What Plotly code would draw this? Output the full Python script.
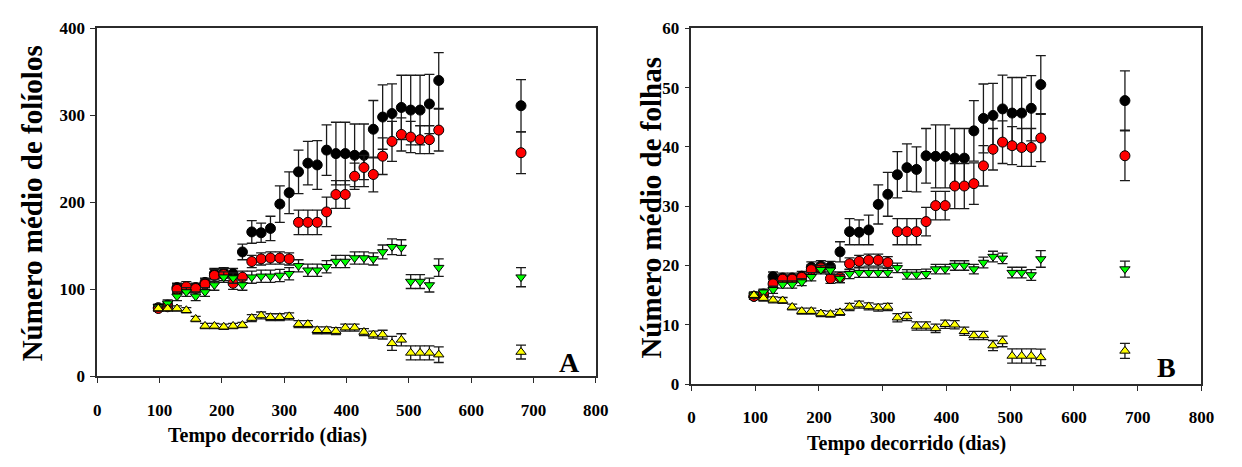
import plotly.graph_objects as go

# Sampling times (days) shared by all series; last point is the isolated late measurement
days = [98, 113, 128, 143, 158, 173, 188, 203, 218, 233, 248, 263, 278, 293, 308, 323,
        338, 353, 368, 383, 398, 413, 428, 443, 458, 473, 488, 503, 518, 533, 548, 680]

# Panel A - mean number of leaflets
black_A = [79, 82, 102, 101, 102, 108, 118, 119, 118, 143, 166, 165, 170, 198, 211, 235,
           245, 243, 260, 256, 256, 254, 254, 284, 298, 302, 309, 306, 306, 313, 340, 311]
black_A_err = [3, 3, 5, 5, 5, 5, 6, 6, 6, 9, 13, 11, 14, 21, 24, 25,
               25, 28, 29, 36, 36, 36, 36, 33, 37, 34, 37, 40, 40, 34, 32, 30]
red_A = [78, 80, 100, 103, 101, 106, 116, 117, 107, 114, 132, 135, 136, 136, 135, 177,
         177, 177, 189, 209, 209, 230, 240, 232, 253, 270, 278, 275, 272, 272, 283, 257]
red_A_err = [3, 3, 5, 6, 5, 6, 7, 7, 7, 7, 7, 7, 7, 7, 7, 14,
             14, 14, 17, 16, 16, 15, 14, 20, 21, 23, 19, 18, 16, 16, 24, 24]
green_A = [80, 84, 92, 97, 92, 97, 105, 114, 113, 105, 114, 115, 115, 116, 118, 127,
           122, 122, 126, 132, 132, 136, 136, 135, 143, 149, 148, 109, 109, 105, 125, 114]
green_A_err = [3, 4, 5, 5, 5, 5, 6, 6, 6, 6, 7, 7, 7, 7, 7, 7,
               7, 7, 7, 7, 7, 7, 7, 7, 8, 9, 9, 8, 8, 8, 10, 11]
yellow_A = [78, 78, 78, 76, 66, 58, 58, 57, 58, 59, 67, 70, 68, 68, 69, 60,
            60, 53, 53, 52, 56, 56, 51, 48, 48, 38, 42, 27, 27, 27, 25, 28]
yellow_A_err = [3, 3, 3, 3, 3, 3, 3, 3, 3, 3, 4, 4, 4, 4, 4, 4,
                4, 4, 4, 4, 4, 4, 4, 4, 5, 8, 7, 8, 8, 8, 9, 8]

# Panel B - mean number of leaves
black_B = [14.8, 15.0, 18.1, 17.9, 17.9, 18.2, 19.7, 19.9, 19.8, 22.3, 25.7, 25.6, 26.0, 30.3, 32.0, 35.3,
           36.5, 36.2, 38.5, 38.4, 38.4, 38.1, 38.1, 42.7, 44.8, 45.3, 46.4, 45.7, 45.7, 46.5, 50.5, 47.8]
black_B_err = [0.5, 0.5, 0.8, 0.8, 0.8, 0.8, 0.9, 0.9, 0.9, 1.7, 2.2, 2.1, 2.5, 3.3, 3.7, 3.9,
               4.0, 3.8, 4.6, 5.3, 5.3, 5.0, 5.0, 5.1, 5.8, 5.4, 5.7, 6.0, 6.0, 5.5, 4.9, 5.0]
red_B = [14.8, 15.2, 16.9, 17.7, 17.7, 18.0, 19.3, 19.6, 17.8, 18.0, 20.3, 20.7, 20.9, 20.9, 20.5, 25.7,
         25.7, 25.7, 27.4, 30.1, 30.1, 33.4, 33.4, 33.8, 36.8, 39.6, 40.8, 40.2, 39.9, 39.9, 41.5, 38.5]
red_B_err = [0.5, 0.5, 0.7, 0.7, 0.7, 0.7, 0.8, 0.8, 0.8, 0.9, 1.0, 1.0, 1.0, 1.0, 1.0, 2.2,
             2.2, 2.2, 2.4, 2.4, 2.4, 3.8, 3.8, 3.5, 3.4, 3.5, 3.6, 3.2, 3.2, 3.2, 4.0, 4.2]
green_B = [15.0, 15.5, 15.9, 16.8, 16.8, 17.2, 18.1, 19.3, 19.2, 17.8, 18.6, 18.8, 18.8, 18.8, 18.8, 19.6,
           18.5, 18.5, 18.6, 19.4, 19.4, 20.0, 20.0, 19.4, 20.5, 21.5, 21.2, 18.8, 18.8, 18.4, 21.1, 19.4]
green_B_err = [0.5, 0.5, 0.6, 0.6, 0.6, 0.6, 0.7, 0.7, 0.7, 0.7, 0.8, 0.8, 0.8, 0.8, 0.8, 0.8,
               0.8, 0.8, 0.8, 0.8, 0.8, 0.8, 0.8, 0.8, 0.9, 0.9, 0.9, 0.9, 0.9, 0.9, 1.4, 1.35]
yellow_B = [15.0, 14.5, 14.2, 14.1, 13.0, 12.3, 12.3, 11.9, 11.8, 12.1, 13.0, 13.4, 13.1, 12.9, 13.0, 11.2,
            11.4, 9.8, 9.8, 9.4, 10.1, 10.0, 8.9, 8.2, 8.2, 6.5, 7.2, 4.75, 4.75, 4.75, 4.5, 5.6]
yellow_B_err = [0.5, 0.5, 0.5, 0.5, 0.5, 0.5, 0.5, 0.5, 0.5, 0.5, 0.6, 0.6, 0.6, 0.6, 0.6, 0.7,
                0.7, 0.7, 0.7, 0.7, 0.7, 0.7, 0.7, 0.7, 0.7, 0.85, 0.9, 1.2, 1.2, 1.2, 1.4, 1.27]

x_ticks = [0, 100, 200, 300, 400, 500, 600, 700, 800]
yA_ticks = [0, 100, 200, 300, 400]
yB_ticks = [0, 10, 20, 30, 40, 50, 60]

FONT = "Liberation Serif, Times New Roman, serif"
AXIS_COLOR = "#2b2b2b"

# (fill colour, marker symbol) in drawing order
styles = [
    ("#000000", "circle"),
    ("#ff0000", "circle"),
    ("#00ff00", "triangle-down"),
    ("#ffff00", "triangle-up"),
]
panels = [
    ("x", "y", [(black_A, black_A_err), (red_A, red_A_err), (green_A, green_A_err), (yellow_A, yellow_A_err)]),
    ("x2", "y2", [(black_B, black_B_err), (red_B, red_B_err), (green_B, green_B_err), (yellow_B, yellow_B_err)]),
]

fig = go.Figure()
for xa, ya, series in panels:
    for (vals, errs), (color, symbol) in zip(series, styles):
        fig.add_trace(go.Scatter(
            x=days, y=vals, xaxis=xa, yaxis=ya, mode="markers",
            marker=dict(color=color, symbol=symbol, size=10 if symbol == "circle" else 9,
                        line=dict(color="#000000", width=1)),
            error_y=dict(type="data", array=errs, visible=True,
                         color="#1a1a1a", thickness=1.3, width=5),
            showlegend=False, cliponaxis=False,
        ))

tick_font = dict(family=FONT, size=17, color="#000000", weight="bold")
axis_common = dict(showline=True, linecolor=AXIS_COLOR, linewidth=1.6, mirror=True,
                   ticks="outside", ticklen=5, tickwidth=1.4, tickcolor=AXIS_COLOR,
                   showgrid=False, zeroline=False, tickfont=tick_font)
x_common = dict(range=[0, 800], tickvals=x_ticks, ticklabelstandoff=12, **axis_common)
y_common = dict(ticklabelstandoff=2, **axis_common)

fig.update_layout(
    width=1242, height=467,
    margin=dict(l=0, r=0, t=0, b=0),
    paper_bgcolor="white", plot_bgcolor="white",
    xaxis=dict(domain=[0.0761, 0.4831], anchor="y", **x_common),
    yaxis=dict(domain=[0.1799, 0.957], range=[0, 400], tickvals=yA_ticks, anchor="x", **y_common),
    xaxis2=dict(domain=[0.5612, 0.9775], anchor="y2", **x_common),
    yaxis2=dict(domain=[0.1627, 0.957], range=[0, 60], tickvals=yB_ticks, anchor="x2", **y_common),
)

ytitle_font = dict(family=FONT, size=29, color="#000000", weight="bold")
xtitle_font = dict(family=FONT, size=20, color="#000000", weight="bold")
letter_font = dict(family=FONT, size=28, color="#000000", weight="bold")
annotations = [
    dict(text="Número médio de folíolos", x=28, y=203, textangle=-90, font=ytitle_font),
    dict(text="Tempo decorrido (dias)", x=267, y=445, font=xtitle_font),
    dict(text="Número médio de folhas", x=656, y=207, textangle=-90, font=ytitle_font),
    dict(text="Tempo decorrido (dias)", x=915, y=453, font=xtitle_font),
    dict(text="A", x=573, y=368, font=letter_font),
    dict(text="B", x=1179, y=374, font=letter_font),
]
for a in annotations:
    fig.add_annotation(text=a["text"], x=a["x"] / 1242, y=1 - a["y"] / 467,
                       xref="paper", yref="paper", showarrow=False,
                       xanchor="center", yanchor="middle",
                       textangle=a.get("textangle", 0), font=a["font"])

fig.write_html("out.html")
